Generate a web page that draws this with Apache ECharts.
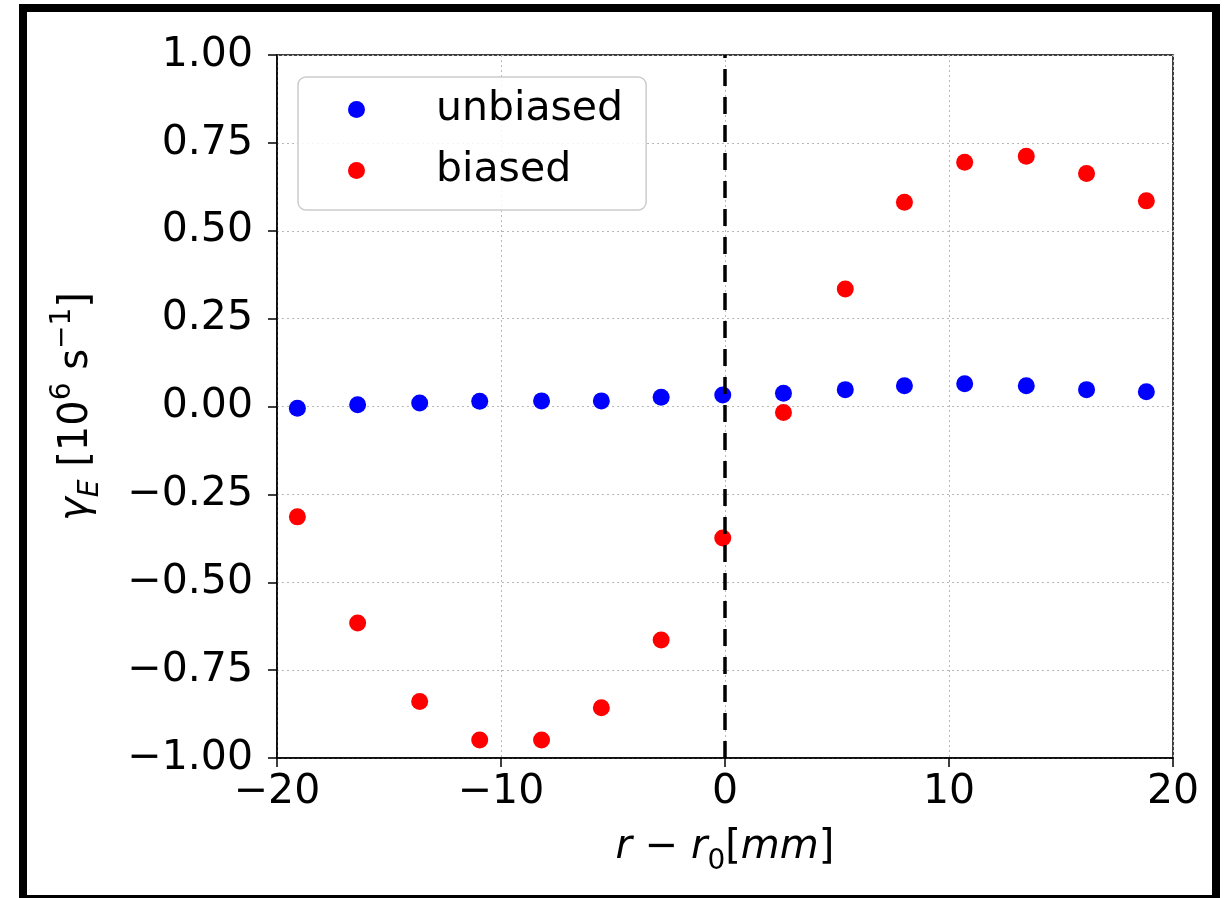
<!DOCTYPE html>
<html>
<head>
<meta charset="utf-8">
<script src="https://cdn.jsdelivr.net/npm/echarts@6/dist/echarts.min.js"></script>
<style>
html,body{margin:0;padding:0;background:#fff;}
#chart{width:1228px;height:898px;}
</style>
</head>
<body>
<div id="chart"></div>
<script>
// Data
const positions = [-19.09, -16.40, -13.63, -10.95, -8.19, -5.52, -2.85, -0.10, 2.61, 5.37, 8.01, 10.70, 13.45, 16.14, 18.81];
const unbiasedValues = [-0.005, 0.005, 0.010, 0.015, 0.016, 0.016, 0.026, 0.033, 0.038, 0.048, 0.059, 0.065, 0.059, 0.048, 0.042];
const biasedValues = [-0.314, -0.616, -0.839, -0.949, -0.949, -0.857, -0.664, -0.374, -0.017, 0.334, 0.581, 0.695, 0.712, 0.663, 0.585];
const seriesNames = ['unbiased', 'biased'];
const xTicks = [-20, -10, 0, 10, 20];
const yTicks = [-1.00, -0.75, -0.50, -0.25, 0.00, 0.25, 0.50, 0.75, 1.00];
const markerPosition = 0;

const FONT = 'DejaVu Sans';
function fmtNum(v, d) {
  const s = Math.abs(v).toFixed(d);
  return (v < 0 ? '\u2212' : '') + s;
}
const chart = echarts.init(document.getElementById('chart'), null, {renderer: 'canvas'});
const pairs = vals => positions.map((x, i) => [x, vals[i]]);

const option = {
  animation: false,
  backgroundColor: '#ffffff',
  textStyle: {fontFamily: FONT},
  grid: {
    left: 277, right: 55, top: 55, bottom: 140,
    show: true, borderColor: '#000', borderWidth: 1.5, backgroundColor: 'transparent'
  },
  legend: {
    orient: 'vertical',
    left: 298, top: 77,
    itemWidth: 17, itemHeight: 17, itemGap: 20,
    padding: [12, 23, 19, 50],
    backgroundColor: 'rgba(255,255,255,0.85)',
    borderColor: '#cccccc', borderWidth: 1.5, borderRadius: 8,
    textStyle: {fontFamily: FONT, fontSize: 41, color: '#000', lineHeight: 40, padding: [0, 0, 0, 66]},
    data: seriesNames
  },
  xAxis: {
    type: 'value', min: xTicks[0], max: xTicks[xTicks.length - 1], interval: 10,
    axisLine: {show: true, onZero: false, lineStyle: {color: '#000', width: 1.5}},
    axisTick: {show: true, length: 9, lineStyle: {color: '#000', width: 1.5}},
    axisLabel: {color: '#000', fontFamily: FONT, fontSize: 41, margin: 14,
      formatter: v => fmtNum(v, 0)},
    splitLine: {show: true, lineStyle: {color: '#b8b8b8', width: 1, type: [2, 3]}},
    name: '{i|r} \u2212 {i|r}{sub|0}[{i|mm}]',
    nameLocation: 'middle', nameGap: 62,
    nameTextStyle: {
      color: '#000', fontFamily: FONT, fontSize: 40, lineHeight: 56,
      rich: {
        i: {fontStyle: 'italic', fontFamily: FONT, fontSize: 40, lineHeight: 56, color: '#000'},
        sub: {fontFamily: FONT, fontSize: 28, lineHeight: 28, verticalAlign: 'bottom', color: '#000'}
      }
    }
  },
  yAxis: {
    type: 'value', min: yTicks[0], max: yTicks[yTicks.length - 1], interval: 0.25,
    axisLine: {show: true, onZero: false, lineStyle: {color: '#000', width: 1.5}},
    axisTick: {show: true, length: 9, lineStyle: {color: '#000', width: 1.5}},
    axisLabel: {color: '#000', fontFamily: FONT, fontSize: 41, margin: 24,
      formatter: v => fmtNum(v, 2)},
    splitLine: {show: true, lineStyle: {color: '#b8b8b8', width: 1, type: [2, 3]}},
    name: '{i|\u03b3}{sub|E} [10{sup|6} s{sup|\u22121}]',
    nameLocation: 'middle', nameGap: 172,
    nameTextStyle: {
      color: '#000', fontFamily: FONT, fontSize: 40, lineHeight: 56,
      rich: {
        i: {fontStyle: 'italic', fontFamily: FONT, fontSize: 40, lineHeight: 56, color: '#000'},
        sub: {fontStyle: 'italic', fontFamily: FONT, fontSize: 28, lineHeight: 28, verticalAlign: 'bottom', color: '#000'},
        sup: {fontFamily: FONT, fontSize: 28, lineHeight: 24, verticalAlign: 'top', color: '#000'}
      }
    }
  },
  series: [
    {
      name: seriesNames[0], type: 'scatter', symbol: 'circle', symbolSize: 17,
      itemStyle: {color: '#0000ff', opacity: 1},
      data: pairs(unbiasedValues), z: 3
    },
    {
      name: seriesNames[1], type: 'scatter', symbol: 'circle', symbolSize: 17,
      itemStyle: {color: '#ff0000', opacity: 1},
      data: pairs(biasedValues), z: 3,
      markLine: {
        silent: true, symbol: ['none', 'none'], z: 5,
        label: {show: false},
        lineStyle: {color: '#000', type: [17, 11], width: 3.5},
        emphasis: {disabled: true},
        data: [{xAxis: markerPosition}]
      }
    }
  ],
  graphic: [
    {
      type: 'rect', silent: true, z: 100,
      shape: {x: 23, y: 8, width: 1193, height: 891},
      style: {fill: 'none', stroke: '#000', lineWidth: 8}
    }
  ]
};
chart.setOption(option);
</script>
</body>
</html>
